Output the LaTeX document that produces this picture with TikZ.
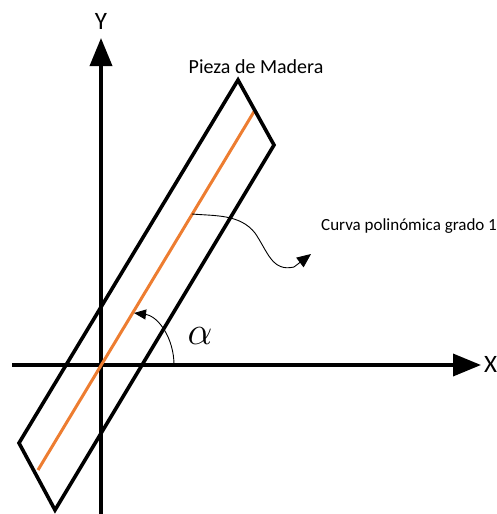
\documentclass[tikz,border=0pt]{standalone}
\usepackage{fontspec}
\setmainfont{Carlito}
\usetikzlibrary{arrows.meta}
\definecolor{wood}{RGB}{237,125,49}
\begin{document}
\begin{tikzpicture}[x=1pt,y=-1pt,
  axis/.style={line width=3.6pt,-{Triangle[length=28pt,width=22pt]}},
  piece/.style={line width=3.6pt,line join=miter},
  midline/.style={wood,line width=3pt},
  thinarrow/.style={line width=0.9pt,-{Triangle[length=14pt,width=12pt]}},
  anglearrow/.style={line width=0.9pt,-{Triangle[length=12pt,width=10pt]}},
  lbl/.style={inner sep=0pt,font=\fontsize{17}{19}\selectfont},
  axlbl/.style={inner sep=0pt,font=\fontsize{25}{28}\selectfont}]
\useasboundingbox (0,0) rectangle (497,514);
% axes
\coordinate (O) at (101,365);
\coordinate (yb) at (101,516);
\coordinate (yt) at (101,38);
\coordinate (xl) at (12,365);
\coordinate (xr) at (481,365);
\draw[axis] (yb) -- (yt);
\draw[axis] (xl) -- (xr);
\node[axlbl] (Y) at (101,21) {Y};
\node[axlbl,anchor=west] (X) at (484,364) {X};
% piece of wood
\coordinate (pt) at (238,80);
\coordinate (pr) at (274,145);
\coordinate (pb) at (55,510);
\coordinate (pl) at (19,443);
\coordinate (m1) at (38,470);
\coordinate (m2) at (255,110);
\draw[midline] (m1) -- (m2);
\draw[piece] (pt) -- (pr) -- (pb) -- (pl) -- cycle;
% labels
\node[lbl,font=\fontsize{20}{22}\selectfont] (pieza) at (256,67) {Pieza de Madera};
\node[lbl,anchor=west] (curva) at (321,226) {Curva polinómica grado 1};
% curved pointer
\coordinate (c0) at (192,214);
\coordinate (c1) at (311,254);
\draw[thinarrow] (c0) .. controls (215,216) and (240,214) .. (255,233)
  .. controls (268,252) and (272,272) .. (294,267) -- (c1);
% angle
\coordinate (a0) at (174,365);
\coordinate (a1) at (134,313);
\draw[anglearrow] (a0) .. controls (174,338) and (158,316) .. (a1);
\node[inner sep=0pt,font=\fontsize{20}{24}\selectfont,scale=1.9] (alpha) at (200,336) {$\alpha$};
\end{tikzpicture}
\end{document}
